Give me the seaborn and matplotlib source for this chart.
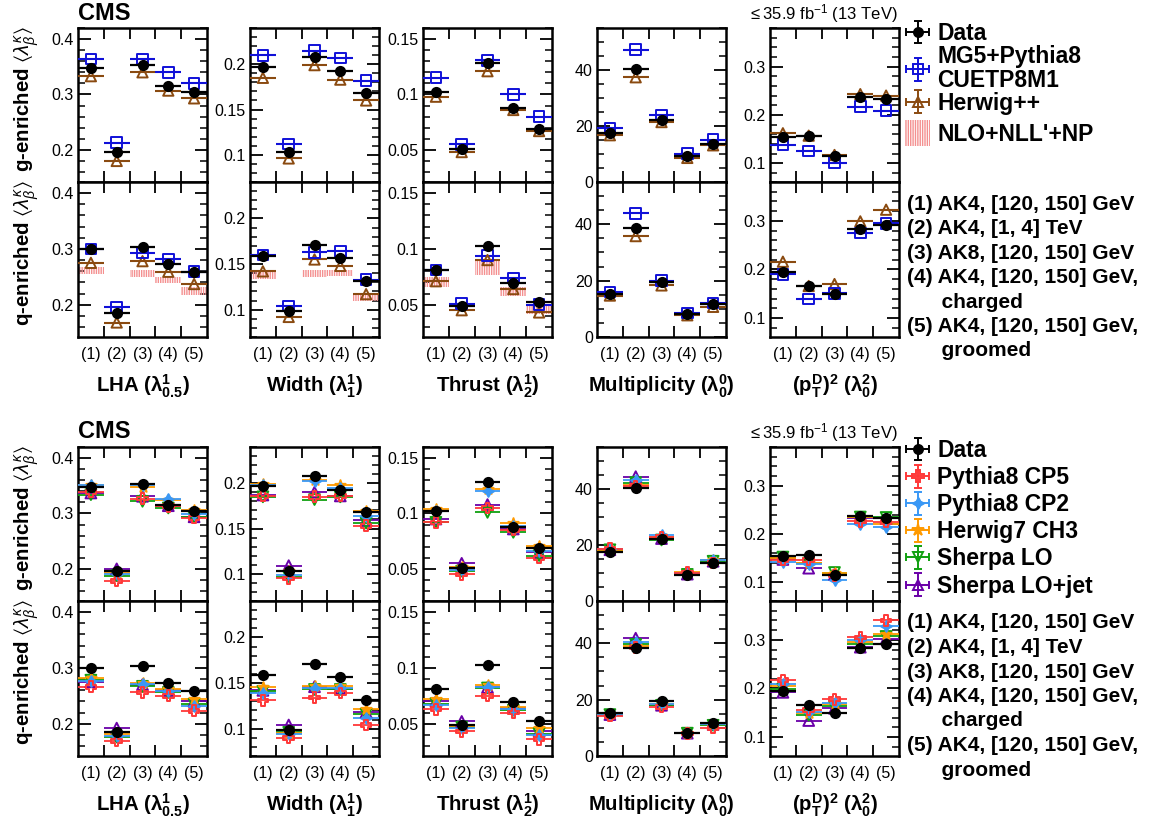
import numpy as np
import matplotlib
matplotlib.use("Agg")
import matplotlib.pyplot as plt
import matplotlib.patches as mpatches
import seaborn as sns
from matplotlib.legend_handler import HandlerPatch
from matplotlib.ticker import FixedLocator, MultipleLocator, NullFormatter, FixedFormatter, FuncFormatter

# ---------------- data (observable order: LHA, Width, Thrust, Multiplicity, pTD) ----------------
bins = ["(1)", "(2)", "(3)", "(4)", "(5)"]
obs_labels = [r"LHA ($\mathbf{\lambda^{1}_{0.5}}$)",
              r"Width ($\mathbf{\lambda^{1}_{1}}$)",
              r"Thrust ($\mathbf{\lambda^{1}_{2}}$)",
              r"Multiplicity ($\mathbf{\lambda^{0}_{0}}$)",
              r"$\mathbf{(p^{D}_{T})^{2}}$ ($\mathbf{\lambda^{2}_{0}}$)"]
obs_ylims = [(0.142, 0.42), (0.07, 0.24), (0.021, 0.16), (0, 55), (0.061, 0.38)]
obs_yticks = [[0.2, 0.3, 0.4], [0.1, 0.15, 0.2], [0.05, 0.1, 0.15], [0, 20, 40], [0.1, 0.2, 0.3]]
obs_yminor = [0.02, 0.01, 0.01, 5, 0.02]

g_data = [[0.348, 0.196, 0.354, 0.315, 0.305],
          [0.197, 0.103, 0.208, 0.192, 0.168],
          [0.102, 0.0505, 0.128, 0.088, 0.069],
          [17.6, 40.3, 22.3, 9.3, 13.7],
          [0.155, 0.156, 0.115, 0.238, 0.232]]
q_data = [[0.300, 0.185, 0.303, 0.273, 0.259],
          [0.159, 0.098, 0.171, 0.157, 0.131],
          [0.081, 0.0485, 0.103, 0.069, 0.052],
          [15.2, 38.5, 19.5, 8.1, 11.7],
          [0.195, 0.165, 0.150, 0.284, 0.292]]

# 2016 comparison (top block)
g_mg5 = [[0.364, 0.213, 0.364, 0.340, 0.320],
         [0.210, 0.112, 0.215, 0.207, 0.182],
         [0.115, 0.055, 0.131, 0.100, 0.080],
         [19.2, 47.3, 23.9, 10.1, 15.1],
         [0.138, 0.125, 0.101, 0.217, 0.209]]
g_herwigpp = [[0.333, 0.180, 0.340, 0.307, 0.293],
              [0.185, 0.096, 0.199, 0.183, 0.160],
              [0.098, 0.048, 0.121, 0.086, 0.067],
              [16.7, 37.4, 21.4, 8.6, 13.1],
              [0.162, 0.157, 0.117, 0.243, 0.240]]
q_mg5 = [[0.300, 0.195, 0.293, 0.282, 0.259],
         [0.160, 0.104, 0.163, 0.164, 0.133],
         [0.081, 0.051, 0.094, 0.074, 0.050],
         [16.0, 43.9, 20.0, 8.5, 12.1],
         [0.190, 0.139, 0.151, 0.275, 0.295]]
q_herwigpp = [[0.275, 0.168, 0.278, 0.259, 0.237],
              [0.142, 0.092, 0.155, 0.148, 0.117],
              [0.071, 0.045, 0.090, 0.064, 0.043],
              [14.7, 35.8, 18.3, 7.7, 10.7],
              [0.216, 0.166, 0.170, 0.299, 0.323]]
nan = np.nan
q_nlo_lo = [[0.255, nan, 0.249, 0.239, 0.217],
            [0.134, nan, 0.136, 0.137, 0.109],
            [0.066, nan, 0.077, 0.058, 0.0415],
            [nan] * 5, [nan] * 5]
q_nlo_hi = [[0.268, nan, 0.263, 0.249, 0.231],
            [0.143, nan, 0.144, 0.144, 0.118],
            [0.075, nan, 0.090, 0.066, 0.0505],
            [nan] * 5, [nan] * 5]

# new tunes (bottom block)
g_cp5 = [[0.339, 0.178, 0.327, 0.313, 0.292],
         [0.186, 0.095, 0.185, 0.186, 0.153],
         [0.092, 0.045, 0.105, 0.085, 0.060],
         [18.7, 41.1, 22.8, 10.1, 13.6],
         [0.146, 0.146, 0.114, 0.226, 0.225]]
g_cp2 = [[0.351, 0.190, 0.351, 0.327, 0.299],
         [0.198, 0.099, 0.202, 0.195, 0.164],
         [0.102, 0.049, 0.120, 0.089, 0.066],
         [18.5, 43.2, 23.5, 10.1, 14.6],
         [0.142, 0.137, 0.105, 0.221, 0.214]]
g_h7 = [[0.352, 0.193, 0.347, 0.324, 0.307],
        [0.199, 0.103, 0.204, 0.198, 0.169],
        [0.104, 0.052, 0.122, 0.091, 0.071],
        [18.3, 41.5, 22.9, 10.3, 14.8],
        [0.151, 0.139, 0.118, 0.234, 0.221]]
g_sherpa = [[0.334, 0.188, 0.322, 0.310, 0.293],
            [0.185, 0.097, 0.182, 0.185, 0.156],
            [0.092, 0.048, 0.101, 0.083, 0.062],
            [18.3, 42.3, 21.8, 9.5, 14.2],
            [0.152, 0.140, 0.120, 0.235, 0.234]]
g_sherpa_jet = [[0.337, 0.200, 0.331, 0.314, 0.294],
                [0.187, 0.109, 0.190, 0.186, 0.159],
                [0.095, 0.055, 0.108, 0.086, 0.065],
                [18.3, 44.4, 22.3, 9.6, 14.2],
                [0.147, 0.129, 0.116, 0.232, 0.232]]
q_cp5 = [[0.266, 0.169, 0.256, 0.250, 0.223],
         [0.131, 0.090, 0.134, 0.139, 0.104],
         [0.063, 0.043, 0.075, 0.060, 0.036],
         [14.2, 38.5, 17.4, 8.0, 10.0],
         [0.217, 0.156, 0.178, 0.305, 0.340]]
q_cp2 = [[0.277, 0.178, 0.272, 0.259, 0.232],
         [0.139, 0.094, 0.145, 0.145, 0.112],
         [0.067, 0.046, 0.083, 0.0635, 0.040],
         [14.7, 40.4, 18.6, 8.2, 11.2],
         [0.210, 0.152, 0.171, 0.300, 0.328]]
q_h7 = [[0.282, 0.181, 0.273, 0.262, 0.244],
        [0.146, 0.095, 0.147, 0.147, 0.122],
        [0.072, 0.048, 0.085, 0.065, 0.046],
        [14.8, 39.1, 18.4, 8.3, 11.5],
        [0.206, 0.150, 0.168, 0.295, 0.313]]
q_sherpa = [[0.278, 0.176, 0.267, 0.256, 0.235],
            [0.141, 0.096, 0.143, 0.143, 0.116],
            [0.068, 0.047, 0.082, 0.062, 0.041],
            [14.7, 39.6, 18.0, 8.1, 10.9],
            [0.199, 0.145, 0.163, 0.291, 0.307]]
q_sherpa_jet = [[0.275, 0.192, 0.270, 0.260, 0.240],
                [0.142, 0.104, 0.146, 0.144, 0.118],
                [0.070, 0.052, 0.0825, 0.064, 0.043],
                [14.7, 41.8, 18.0, 8.1, 11.2],
                [0.192, 0.134, 0.159, 0.285, 0.302]]

jet_labels = ["(1) AK4, [120, 150] GeV", "(2) AK4, [1, 4] TeV", "(3) AK8, [120, 150] GeV",
              "(4) AK4, [120, 150] GeV,", "      charged", "(5) AK4, [120, 150] GeV,", "      groomed"]

# ---------------- style ----------------
sns.set_style("ticks")
plt.rcParams["font.family"] = ["Liberation Sans", "DejaVu Sans"]
plt.rcParams["mathtext.fontset"] = "custom"
plt.rcParams["mathtext.rm"] = "Liberation Sans"
plt.rcParams["mathtext.it"] = "Liberation Sans:italic"
plt.rcParams["mathtext.bf"] = "Liberation Sans:bold"
plt.rcParams["mathtext.fallback"] = "stixsans"
plt.rcParams["hatch.linewidth"] = 1.0
for key in ["text.color", "axes.labelcolor", "xtick.color", "ytick.color", "axes.edgecolor"]:
    plt.rcParams[key] = "black"

W, H = 1153, 823
fig = plt.figure(figsize=(W / 100, H / 100), dpi=100)
col_left = [78, 250, 423, 597, 770]
col_w = 129
blocks = [(28, 182, 337), (447, 601, 756)]
xpos = np.arange(1, 6)

C_MG5, C_HPP, C_NLO = "#1010d8", "#8a4a10", "#f49090"
C_CP5, C_CP2, C_H7, C_SLO, C_SJ = "#ff3838", "#3a98f5", "#ff9a00", "#10a010", "#6a00a8"
star4 = (4, 1, 0)
TICK_FS = 11.5
LEG_PROP = dict(weight="bold", size=16.5)


class TallPatch(HandlerPatch):
    def create_artists(self, legend, orig_handle, xdescent, ydescent, width, height, fontsize, trans):
        p = mpatches.Rectangle((-xdescent, -ydescent - 0.3 * height), width, 1.6 * height,
                               facecolor="none", edgecolor=C_NLO, hatch="|||||||", linewidth=0)
        p.set_transform(trans)
        return [p]


def px_axes(x0, y0, x1, y1):
    return fig.add_axes([x0 / W, 1 - y1 / H, (x1 - x0) / W, (y1 - y0) / H])


def style_axis(ax, k, bottom_row):
    ax.set_xlim(0.5, 5.5)
    ax.set_ylim(*obs_ylims[k])
    ax.xaxis.set_major_locator(FixedLocator([1.5, 2.5, 3.5, 4.5]))
    ax.xaxis.set_major_formatter(NullFormatter())
    ax.xaxis.set_minor_locator(FixedLocator(xpos))
    ax.xaxis.set_minor_formatter(FixedFormatter(bins) if bottom_row else NullFormatter())
    ax.tick_params(axis="x", which="major", direction="in", length=8, width=1.3, top=True, bottom=True)
    ax.tick_params(axis="x", which="minor", length=0, labelsize=TICK_FS, pad=7)
    ax.yaxis.set_major_locator(FixedLocator(obs_yticks[k]))
    ax.yaxis.set_minor_locator(MultipleLocator(obs_yminor[k]))
    ax.yaxis.set_major_formatter(FuncFormatter(lambda v, p: f"{v:g}"))
    ax.tick_params(axis="y", which="major", direction="in", length=9, width=1.3, left=True, right=True,
                   labelsize=TICK_FS, pad=3)
    ax.tick_params(axis="y", which="minor", direction="in", length=5, width=1.1, left=True, right=True)
    for s in ax.spines.values():
        s.set_linewidth(1.8)
    ax.set_xlabel("")
    ax.set_ylabel("")


def draw_series(ax, vals, color, marker, filled, size, lw=1.5, z=3):
    y = np.asarray(vals, float)
    ax.errorbar(xpos, y, xerr=0.5, fmt="none", ecolor=color, elinewidth=lw, capsize=0, zorder=z)
    sns.scatterplot(x=xpos, y=y, marker=marker, s=size, color=color,
                    facecolor=color if filled else "none", edgecolor=color,
                    linewidth=1.4, ax=ax, zorder=z + 0.5, legend=False)


def draw_band(ax, lo, hi):
    lo = np.asarray(lo, float)
    hi = np.asarray(hi, float)
    ok = ~np.isnan(lo)
    ax.bar(xpos[ok], hi[ok] - lo[ok], bottom=lo[ok], width=1.0, color="none",
           edgecolor=C_NLO, hatch="|||||||", linewidth=0, zorder=1)


def legend_handle(ax, color, marker, filled, ms):
    return ax.errorbar([np.nan], [np.nan], xerr=[0.5], yerr=[0.5], fmt="", marker=marker,
                       linestyle="none", color=color,
                       mfc=color if filled else "none", mec=color, ms=ms, mew=1.4,
                       elinewidth=1.4, capsize=3)


def add_legend(handles, labels, top_px, spacing, **kw):
    leg = fig.legend(handles, labels, loc="upper left", bbox_to_anchor=(905 / W, 1 - top_px / H),
                     frameon=False, prop=LEG_PROP, handlelength=1.1, handletextpad=0.3,
                     labelspacing=spacing, borderaxespad=0, borderpad=0, **kw)
    for t in leg.get_texts():
        t.set_linespacing(1.05)
    return leg


def block_text(top):
    fig.text(78 / W, 1 - (top - 15) / H, "CMS", fontsize=17, fontweight="bold", va="center", ha="left")
    fig.text(898 / W, 1 - (top - 14) / H, r"$\leq$35.9 fb$^{-1}$ (13 TeV)", fontsize=12,
             va="center", ha="right")


# ---------------- both blocks ----------------
for b, (y0, ym, y1) in enumerate(blocks):
    for k in range(5):
        x0 = col_left[k]
        for r, (ya, yb, region) in enumerate([(y0, ym, "g"), (ym, y1, "q")]):
            ax = px_axes(x0, ya, x0 + col_w, yb)
            data = g_data if region == "g" else q_data
            if b == 0:
                if region == "q":
                    draw_band(ax, q_nlo_lo[k], q_nlo_hi[k])
                draw_series(ax, (g_herwigpp if region == "g" else q_herwigpp)[k], C_HPP, "^", False, 55)
                draw_series(ax, (g_mg5 if region == "g" else q_mg5)[k], C_MG5, "s", False, 60)
            else:
                sets = [(g_sherpa_jet, q_sherpa_jet, C_SJ, "^", False),
                        (g_sherpa, q_sherpa, C_SLO, "v", False),
                        (g_h7, q_h7, C_H7, "*", True),
                        (g_cp2, q_cp2, C_CP2, star4, True),
                        (g_cp5, q_cp5, C_CP5, "P", False)]
                for gs, qs, c, m, f in sets:
                    draw_series(ax, (gs if region == "g" else qs)[k], c, m, f, 60, lw=1.3)
            draw_series(ax, data[k], "black", "o", True, 44, lw=1.6, z=6)
            style_axis(ax, k, r == 1)
            if k == 0:
                lab = ("g" if region == "g" else "q") + r"-enriched $\langle\lambda^{\kappa}_{\beta}\rangle$"
                fig.text(27 / W, 1 - ((ya + yb) / 2 - 6) / H, lab, rotation=90, fontsize=14.7,
                         fontweight="bold", ha="center", va="center")
        fig.text((x0 + col_w / 2) / W, 1 - (y1 + 49) / H, obs_labels[k], fontsize=14.7,
                 fontweight="bold", ha="center", va="center")
    block_text(y0)

    # legends
    hax = fig.axes[-1]
    if b == 0:
        handles = [legend_handle(hax, "black", "o", True, 6.5),
                   legend_handle(hax, C_MG5, "s", False, 7.5),
                   legend_handle(hax, C_HPP, "^", False, 7.5)]
        labels = ["Data", "MG5+Pythia8\nCUETP8M1", "Herwig++"]
        add_legend(handles, labels, 22, 0.0)
        nlo_patch = mpatches.Patch(facecolor="none", edgecolor=C_NLO, hatch="|||||||", linewidth=0)
        add_legend([nlo_patch], ["NLO+NLL'+NP"], 123, 0.0, handler_map={nlo_patch: TallPatch()})
    else:
        handles = [legend_handle(hax, "black", "o", True, 6.5),
                   legend_handle(hax, C_CP5, "P", False, 8),
                   legend_handle(hax, C_CP2, star4, True, 8),
                   legend_handle(hax, C_H7, "*", True, 9),
                   legend_handle(hax, C_SLO, "v", False, 7),
                   legend_handle(hax, C_SJ, "^", False, 7)]
        labels = ["Data", "Pythia8 CP5", "Pythia8 CP2", "Herwig7 CH3", "Sherpa LO", "Sherpa LO+jet"]
        add_legend(handles, labels, y0 - 8, 0.18)
    # jet descriptions
    base = 204 if b == 0 else 623
    for i, line in enumerate(jet_labels):
        fig.text(907 / W, 1 - (base + 24.5 * i) / H, line, fontsize=15, fontweight="bold",
                 ha="left", va="center")

fig.savefig("out.png", dpi=100)
